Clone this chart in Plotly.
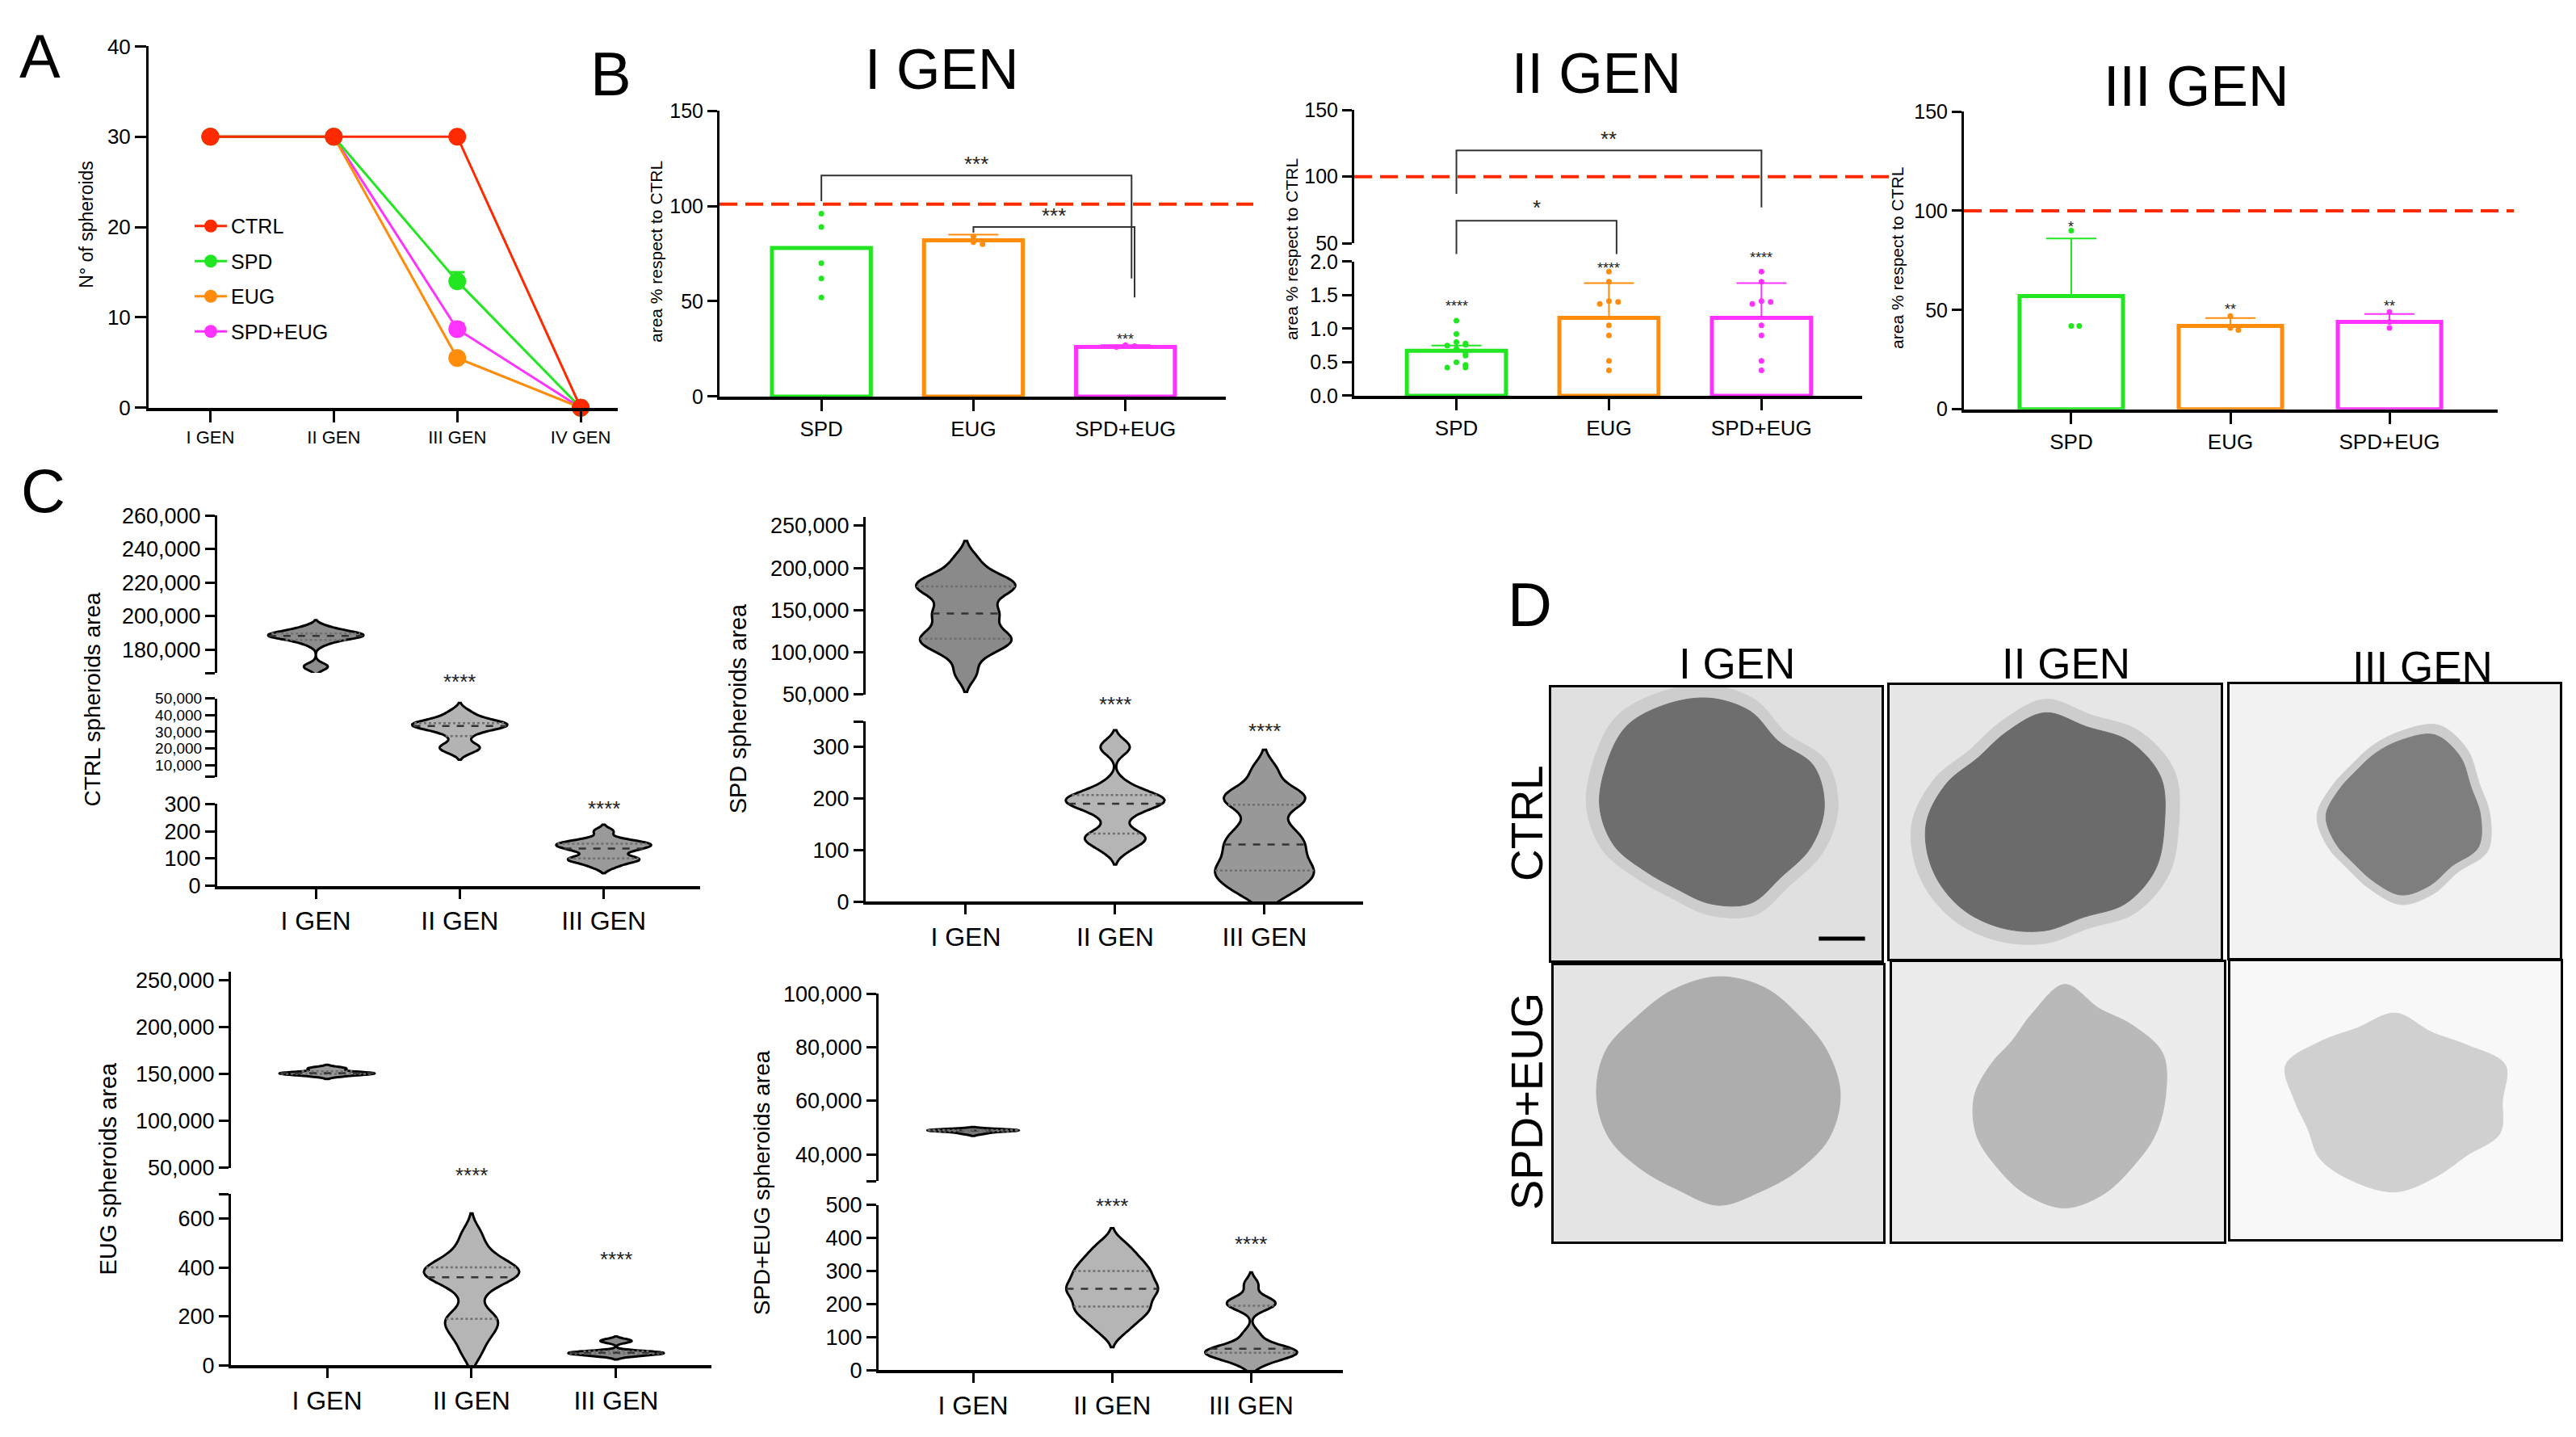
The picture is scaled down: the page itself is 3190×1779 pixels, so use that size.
import numpy as np
import plotly.graph_objects as go

W, H = 3190, 1779
FONT = "Liberation Sans, Arial, Helvetica, sans-serif"

GREEN = "#22e622"
ORANGE = "#ff8c0a"
MAGENTA = "#ff33ff"
RED = "#ff2a00"
TREAT_COLORS = [GREEN, ORANGE, MAGENTA]

# ---------------- data ----------------
# A: number of spheroids per generation
gen4 = ["I GEN", "II GEN", "III GEN", "IV GEN"]
count_ctrl = [30, 30, 30, 0]
count_spd = [30, 30, 14, 0]
count_eug = [30, 30, 5.5, 0]
count_spd_eug = [30, 30, 8.7, 0]
count_err_spd = [0, 0, 1.0, 0]
count_err_eug = [0, 0, 0.5, 0]
count_err_spd_eug = [0, 0, 0.6, 0]

# B: area % respect to CTRL
treatments = ["SPD", "EUG", "SPD+EUG"]
pct_gen1 = [78, 82, 26]
pct_gen1_err = [0, 3, 1]
pct_gen1_pts = [[96, 89, 70, 62, 52], [84, 81, 80], [27, 26.5, 26]]
pct_gen2 = [0.67, 1.16, 1.16]
pct_gen2_err = [0.08, 0.52, 0.52]
pct_gen2_pts = [[1.12, 0.92, 0.80, 0.78, 0.76, 0.75, 0.70, 0.66, 0.63, 0.60, 0.50, 0.46, 0.45, 0.42, 0.42],
                [1.85, 1.70, 1.41, 1.40, 1.37, 1.05, 0.90, 0.52, 0.38],
                [1.85, 1.70, 1.41, 1.40, 1.37, 1.05, 0.90, 0.52, 0.38]]
pct_gen3 = [57, 42, 44]
pct_gen3_err = [29, 4, 4]
pct_gen3_pts = [[90, 42, 42], [47, 41, 40], [49, 44, 41]]

# C: spheroid areas (samples per generation) and violin bandwidths
gen3 = ["I GEN", "II GEN", "III GEN"]
area_ctrl = [[169000, 170500, 183000, 185500, 186500, 187500, 188000, 188300, 188700, 189200, 189800, 190500, 192000, 193500],
             [18500, 20500, 22000, 27500, 31000, 32500, 33500, 34000, 34500, 35200, 36200, 38500, 42000],
             [70, 88, 95, 99, 103, 124, 133, 140, 147, 151, 155, 160, 170, 200]]
bw_ctrl = [2000, 2600, 12]
area_spd = [[75000, 98000, 108000, 112000, 116000, 120000, 128000, 142000, 146000, 152000, 168000, 174000, 178000, 181000, 185000, 192000, 210000],
            [100, 115, 122, 128, 132, 160, 178, 185, 190, 195, 198, 202, 207, 212, 230, 295, 305],
            [15, 30, 45, 55, 62, 75, 90, 105, 117, 130, 150, 185, 198, 205, 215, 255]]
bw_spd = [11000, 14, 20]
area_eug = [[147500, 149500, 150000, 150500, 151000, 152000, 155000, 156500],
            [50, 110, 140, 175, 190, 210, 290, 340, 360, 370, 375, 385, 400, 415, 440, 480, 540],
            [38, 44, 48, 50, 52, 54, 58, 96, 104]]
bw_eug = [1500, 40, 7]
area_spd_eug = [[47800, 48600, 48900, 49000, 49100, 49300],
                [120, 150, 170, 185, 195, 215, 235, 243, 250, 265, 285, 297, 310, 330, 350, 380],
                [20, 35, 45, 50, 55, 57, 60, 65, 80, 110, 190, 200, 205, 215, 260]]
bw_spd_eug = [450, 25, 18]

# D: micrograph outlines (relative radii over 16 directions)
img_rows = ["CTRL", "SPD+EUG"]
blob_ctrl = [[1.02, 1.0, 0.86, 0.95, 1.0, 1.02, 1.05, 1.0, 0.98, 0.92, 0.82, 0.8, 0.88, 0.95, 0.9, 0.97],
             [1.0, 1.05, 1.0, 0.9, 0.95, 0.85, 0.8, 0.9, 1.0, 1.02, 1.0, 0.95, 0.9, 0.85, 0.95, 1.0],
             [1.0, 0.95, 1.05, 1.1, 0.95, 0.85, 0.8, 0.85, 0.95, 0.9, 0.85, 0.9, 1.0, 0.95, 0.9, 1.05]]
blob_spd_eug = [[1.0, 0.97, 0.95, 1.0, 1.02, 0.98, 0.95, 1.0, 1.0, 0.97, 0.9, 0.88, 0.95, 0.9, 0.92, 0.98],
                [0.95, 1.0, 0.9, 0.85, 1.0, 0.8, 0.7, 0.75, 0.85, 0.9, 0.9, 0.95, 1.0, 0.95, 0.9, 0.92],
                [0.9, 1.0, 0.85, 0.8, 0.95, 0.85, 0.9, 1.0, 0.85, 0.8, 0.9, 0.95, 1.0, 0.9, 0.85, 0.95]]

fig = go.Figure()

YSTYLE = dict(showline=True, linecolor="black", linewidth=3, ticks="outside", ticklen=12,
              tickwidth=3, tickcolor="black", showgrid=False, zeroline=False, tickfont=dict(size=24))
XSTYLE = dict(showline=True, linecolor="black", linewidth=4, ticks="outside", ticklen=14,
              tickwidth=3, tickcolor="black", showgrid=False, zeroline=False, tickfont=dict(size=26))

axes_made = [0]


class Ax:
    pass


def new_axes(x0, x1, ytop, ybot, xr, yr, show_x=True, xkw=None, ykw=None):
    axes_made[0] += 1
    n = axes_made[0]
    s = "" if n == 1 else str(n)
    a = Ax()
    a.x, a.y, a.xr, a.yr = "x" + s, "y" + s, xr, yr
    if show_x:
        xa = dict(domain=[x0 / W, x1 / W], range=xr, anchor="y" + s, **XSTYLE)
    else:
        xa = dict(domain=[x0 / W, x1 / W], range=xr, anchor="y" + s, visible=False)
    ya = dict(domain=[1 - ybot / H, 1 - ytop / H], range=yr, anchor="x" + s, **YSTYLE)
    if xkw:
        xa.update(xkw)
    if ykw:
        ya.update(ykw)
    fig.update_layout(**{"xaxis" + s: xa, "yaxis" + s: ya})
    return a


def fx(a, v):
    return (v - a.xr[0]) / (a.xr[1] - a.xr[0])


def fy(a, v):
    return (v - a.yr[0]) / (a.yr[1] - a.yr[0])


def text(x, y, s, size, angle=0, yanchor="middle"):
    fig.add_annotation(x=x / W, y=1 - y / H, xref="paper", yref="paper", text=s, showarrow=False,
                       textangle=angle, font=dict(size=size, color="black"), xanchor="center",
                       yanchor=yanchor)


def stars(a, x, v, s, size=20):
    fig.add_annotation(x=x, y=fy(a, v), xref=a.x, yref=a.y + " domain", text=s, showarrow=False,
                       font=dict(size=size, color="#222"), xanchor="center", yanchor="middle")


def bracket(a, xa, xb, ytop, yl, yrr, label, ystar, size=24):
    path = (f"M {fx(a, xa)},{fy(a, yl)} L {fx(a, xa)},{fy(a, ytop)} "
            f"L {fx(a, xb)},{fy(a, ytop)} L {fx(a, xb)},{fy(a, yrr)}")
    fig.add_shape(type="path", path=path, xref=a.x + " domain", yref=a.y + " domain",
                  line=dict(color="#333", width=2))
    stars(a, (xa + xb) / 2, ystar, label, size)


def ref_line(a, v, x_end):
    fig.add_shape(type="line", xref=a.x + " domain", yref=a.y + " domain", x0=0, x1=x_end,
                  y0=fy(a, v), y1=fy(a, v), line=dict(color=RED, width=4, dash="22px,10px"))


def swarm(vals, tol, step):
    offs, placed = [], []
    for v in vals:
        k = sum(1 for p in placed if abs(p - v) < tol)
        offs.append(0 if k == 0 else step * ((k + 1) // 2) * (1 if k % 2 else -1))
        placed.append(v)
    return offs


# ---------------- A ----------------
aA = new_axes(176, 757, 35, 490, [-0.5, 3.3], [0, 40],
              xkw=dict(tickvals=[0, 1, 2, 3], ticktext=gen4, tickfont=dict(size=22)),
              ykw=dict(tickvals=[0, 10, 20, 30, 40], tickfont=dict(size=26), ticklen=14))
series_a = [("SPD+EUG", count_spd_eug, count_err_spd_eug, MAGENTA, 4),
            ("EUG", count_eug, count_err_eug, ORANGE, 3),
            ("SPD", count_spd, count_err_spd, GREEN, 2),
            ("CTRL", count_ctrl, None, RED, 1)]
for name, vals, err, col, rank in series_a:
    ey = None
    if err:
        ey = dict(type="data", array=err, arrayminus=[0] * 4, symmetric=False, color=col,
                  thickness=3, width=9)
    fig.add_trace(go.Scatter(x=list(range(4)), y=vals, mode="lines+markers", name=name,
                             line=dict(color=col, width=3), marker=dict(color=col, size=22),
                             error_y=ey, xaxis=aA.x, yaxis=aA.y, cliponaxis=False,
                             legendrank=rank, legendgroup=name))
fig.update_layout(legend=dict(x=228 / W, y=1 - 238 / H, xanchor="left", yanchor="top",
                              font=dict(size=25), bgcolor="rgba(0,0,0,0)", tracegroupgap=8,
                              itemwidth=40))
text(99, 259, "N° of spheroids", 23, -90)


# ---------------- B ----------------
def bar_panel(a, means, errs, pts, tol, step, mark_size=7):
    for i in range(3):
        col = TREAT_COLORS[i]
        fig.add_trace(go.Bar(x=[i], y=[means[i]], width=0.65, marker=dict(color="rgba(0,0,0,0)",
                             line=dict(color=col, width=5)),
                             error_y=dict(type="data", array=[errs[i]], arrayminus=[0], symmetric=False,
                                          color=col, thickness=2, width=31),
                             xaxis=a.x, yaxis=a.y, showlegend=False))
        offs = swarm(pts[i], tol, step)
        fig.add_trace(go.Scatter(x=[i + o for o in offs], y=pts[i], mode="markers",
                                 marker=dict(color=col, size=mark_size), xaxis=a.x, yaxis=a.y,
                                 showlegend=False, cliponaxis=False))


BX = dict(tickvals=[0, 1, 2], ticktext=treatments)
aB1 = new_axes(883, 1510, 116, 476, [-0.67, 2.66], [0, 150], xkw=BX,
               ykw=dict(tickvals=[0, 50, 100, 150], tickfont=dict(size=25)))
bar_panel(aB1, pct_gen1, pct_gen1_err, pct_gen1_pts, 2.5, 0.06)
ref_line(aB1, 101, (1544 - 883) / (1510 - 883))
bracket(aB1, 0, 2.04, 116, 102.5, 62, "***", 122, 26)
bracket(aB1, 1, 2.06, 89, 86, 52, "***", 95, 26)
stars(aB1, 2, 30, "***", 18)
text(1158, 64, "I GEN", 70)
text(804, 294, "area % respect to CTRL", 21, -90)

aB2 = new_axes(1669, 2298, 306, 475, [-0.67, 2.66], [0, 2], xkw=BX,
               ykw=dict(tickvals=[0, 0.5, 1, 1.5, 2], tickformat=".1f", tickfont=dict(size=25)))
aB2t = new_axes(1669, 2298, 115, 283, [-0.67, 2.66], [50, 150], show_x=False,
                ykw=dict(tickvals=[50, 100, 150], tickfont=dict(size=25)))
bar_panel(aB2, pct_gen2, pct_gen2_err, pct_gen2_pts, 0.04, 0.06)
ref_line(aB2t, 100, (2331 - 1669) / (2298 - 1669))
bracket(aB2t, 0, 2, 119.6, 87, 77, "**", 128, 26)
bracket(aB2t, 0, 1.05, 67, 42, 42, "*", 77, 26)
stars(aB2, 0, 1.34, "****", 18)
stars(aB2, 1, 1.9, "****", 18)
stars(aB2, 2, 2.06, "****", 18)
text(1969, 69, "II GEN", 70)
text(1591, 291, "area % respect to CTRL", 21, -90)

aB3 = new_axes(2424, 3085, 117, 492, [-0.675, 2.68], [0, 150], xkw=BX,
               ykw=dict(tickvals=[0, 50, 100, 150], tickfont=dict(size=25)))
bar_panel(aB3, pct_gen3, pct_gen3_err, pct_gen3_pts, 2.5, 0.05)
ref_line(aB3, 100, (3105 - 2424) / (3085 - 2424))
stars(aB3, 0, 92, "*", 18)
stars(aB3, 1, 50.5, "**", 18)
stars(aB3, 2, 52, "**", 18)
text(2711, 85, "III GEN", 70)
text(2342, 302, "area % respect to CTRL", 21, -90)


# ---------------- C ----------------
def kde_half(vals, bw, y, width=0.66):
    v = np.asarray(vals, float)
    grid = np.linspace(v.min() - 2 * bw, v.max() + 2 * bw, 600)
    dens = lambda t: np.exp(-0.5 * ((np.atleast_1d(t)[:, None] - v[None, :]) / bw) ** 2).sum(1)
    return width / 2 * dens(y)[0] / dens(grid).max()


def violin(a, i, vals, bw, fill):
    fig.add_trace(go.Violin(x0=i, y=vals, xaxis=a.x, yaxis=a.y, width=0.66, bandwidth=bw,
                            spanmode="soft", scalemode="width", points=False, fillcolor=fill,
                            line=dict(color="black", width=3), opacity=1, showlegend=False,
                            box_visible=False, meanline_visible=False, hoverinfo="skip"))
    for q, dash, col in [(25, "dot", "#6f6f6f"), (50, "dash", "#333333"), (75, "dot", "#6f6f6f")]:
        yq = float(np.percentile(vals, q))
        hw = kde_half(vals, bw, yq)
        fig.add_trace(go.Scatter(x=[i - hw, i + hw], y=[yq, yq], mode="lines", xaxis=a.x, yaxis=a.y,
                                 line=dict(color=col, width=2.5, dash=dash), showlegend=False,
                                 hoverinfo="skip"))


CX = dict(tickvals=[0, 1, 2], ticktext=gen3, tickfont=dict(size=32), ticklen=12)
CY = dict(tickfont=dict(size=27), tickformat=",")

# CTRL
xr = [-0.685, 2.67]
c1b = new_axes(261, 859, 989, 1092, xr, [0, 300], xkw=CX, ykw=dict(CY, tickvals=[0, 100, 200, 300]))
c1m = new_axes(261, 859, 856, 955, xr, [3000, 50000], show_x=False,
               ykw=dict(CY, tickvals=[3000, 10000, 20000, 30000, 40000, 50000],
                        ticktext=["", "10,000", "20,000", "30,000", "40,000", "50,000"],
                        tickfont=dict(size=19)))
c1t = new_axes(261, 859, 626, 824, xr, [166000, 260000], show_x=False,
               ykw=dict(CY, tickvals=[166000, 180000, 200000, 220000, 240000, 260000],
                        ticktext=["", "180,000", "200,000", "220,000", "240,000", "260,000"]))
violin(c1t, 0, area_ctrl[0], bw_ctrl[0], "#8c8c8c")
violin(c1m, 1, area_ctrl[1], bw_ctrl[1], "#b3b3b3")
violin(c1b, 2, area_ctrl[2], bw_ctrl[2], "#9a9a9a")
stars(c1m, 1, 60000, "****", 26)
stars(c1b, 2, 282, "****", 26)
text(107, 857, "CTRL spheroids area", 28, -90)

# SPD
xr = [-0.67, 2.66]
c2b = new_axes(1064, 1680, 885, 1112, xr, [0, 350], xkw=CX,
               ykw=dict(CY, tickvals=[0, 100, 200, 300, 350], ticktext=["0", "100", "200", "300", ""]))
c2t = new_axes(1064, 1680, 628, 851, xr, [50000, 260000], show_x=False,
               ykw=dict(CY, tickvals=[50000, 100000, 150000, 200000, 250000]))
violin(c2t, 0, area_spd[0], bw_spd[0], "#8a8a8a")
violin(c2b, 1, area_spd[1], bw_spd[1], "#b5b5b5")
violin(c2b, 2, area_spd[2], bw_spd[2], "#989898")
stars(c2b, 1, 383, "****", 26)
stars(c2b, 2, 331, "****", 26)
text(906, 869, "SPD spheroids area", 29, -90)

# EUG
xr = [-0.665, 2.66]
c3b = new_axes(278, 873, 1480, 1696, xr, [0, 700], xkw=CX,
               ykw=dict(CY, tickvals=[0, 200, 400, 600, 700], ticktext=["0", "200", "400", "600", ""]))
c3t = new_axes(278, 873, 1200, 1447, xr, [50000, 259000], show_x=False,
               ykw=dict(CY, tickvals=[50000, 100000, 150000, 200000, 250000]))
violin(c3t, 0, area_eug[0], bw_eug[0], "#999999")
violin(c3b, 1, area_eug[1], bw_eug[1], "#b5b5b5")
violin(c3b, 2, area_eug[2], bw_eug[2], "#8a8a8a")
stars(c3b, 1, 776, "****", 26)
stars(c3b, 2, 434, "****", 26)
text(126, 1448, "EUG spheroids area", 29, -90)

# SPD+EUG
xr = [-0.68, 2.66]
c4b = new_axes(1080, 1655, 1494, 1702, xr, [0, 500], xkw=CX,
               ykw=dict(CY, tickvals=[0, 100, 200, 300, 400, 500]))
c4t = new_axes(1080, 1655, 1228, 1464, xr, [30000, 100000], show_x=False,
               ykw=dict(CY, tickvals=[30000, 40000, 60000, 80000, 100000],
                        ticktext=["", "40,000", "60,000", "80,000", "100,000"]))
violin(c4t, 0, area_spd_eug[0], bw_spd_eug[0], "#7a7a7a")
violin(c4b, 1, area_spd_eug[1], bw_spd_eug[1], "#b5b5b5")
violin(c4b, 2, area_spd_eug[2], bw_spd_eug[2], "#a0a0a0")
stars(c4b, 1, 498, "****", 26)
stars(c4b, 2, 381, "****", 26)
text(935, 1466, "SPD+EUG spheroids area", 28, -90)

# ---------------- D ----------------
frames = [[(1913, 2322, 842, 1186), (2332, 2742, 839, 1184), (2753, 3162, 838, 1183)],
          [(1916, 2324, 1192, 1540), (2335, 2746, 1188, 1540), (2754, 3163, 1187, 1537)]]
blob_center = [[(0.48, 0.56, 0.34, 0.40), (0.47, 0.49, 0.36, 0.43), (0.52, 0.52, 0.24, 0.29)],
               [(0.50, 0.53, 0.37, 0.42), (0.52, 0.52, 0.32, 0.40), (0.50, 0.50, 0.36, 0.33)]]
bg_cols = [["#e0e0e0", "#e6e6e6", "#f2f2f2"], ["#e4e4e4", "#ececec", "#f8f8f8"]]
blob_cols = [["#6e6e6e", "#6b6b6b", "#7e7e7e"], ["#adadad", "#b9b9b9", "#d0d0d0"]]
halo = [[True, True, True], [False, False, False]]
radii = [blob_ctrl, blob_spd_eug]
ang = np.linspace(0, 2 * np.pi, 16, endpoint=False)
DAX = dict(showline=True, mirror=True, linecolor="black", linewidth=3, ticks="",
           showticklabels=False, showgrid=False, zeroline=False)
for r in range(2):
    for c in range(3):
        x0, x1, yt, yb = frames[r][c]
        a = new_axes(x0, x1, yt, yb, [0, 1], [0, 1], xkw=DAX, ykw=DAX)
        fig.add_shape(type="rect", xref=a.x + " domain", yref=a.y + " domain", x0=0, x1=1, y0=0, y1=1,
                      fillcolor=bg_cols[r][c], line=dict(width=0), layer="below")
        cx, cy, rx, ry = blob_center[r][c]
        rr = np.array(radii[r][c])
        scales = [(1.12, "#cdcdcd"), (1.0, blob_cols[r][c])] if halo[r][c] else [(1.0, blob_cols[r][c])]
        for k, col in scales:
            xs = cx + k * rx * rr * np.cos(ang)
            ys = cy + k * ry * rr * np.sin(ang)
            fig.add_trace(go.Scatter(x=np.append(xs, xs[0]), y=np.append(ys, ys[0]), mode="lines",
                                     fill="toself", fillcolor=col, line=dict(color=col, width=1, shape="spline"),
                                     xaxis=a.x, yaxis=a.y, showlegend=False, hoverinfo="skip"))
        if r == 0 and c == 0:
            fig.add_shape(type="line", xref=a.x, yref=a.y, x0=0.81, x1=0.95, y0=0.08, y1=0.08,
                          line=dict(color="black", width=5))

text(2143, 812, "I GEN", 53)
text(2550, 812, "II GEN", 53)
text(2992, 816, "III GEN", 53)
text(1883, 1013, "CTRL", 55, -90)
text(1883, 1364, "SPD+EUG", 56, -90)

# panel letters
text(41, 2, "A", 76, yanchor="top")
text(748, 24, "B", 76, yanchor="top")
text(45, 595, "C", 76)
text(1886, 738, "D", 76)

fig.update_layout(width=W, height=H, margin=dict(l=0, r=0, t=0, b=0), paper_bgcolor="white",
                  plot_bgcolor="white", font=dict(family=FONT, color="black"), barmode="overlay",
                  violinmode="overlay", showlegend=True)

fig.write_html("out.html")
